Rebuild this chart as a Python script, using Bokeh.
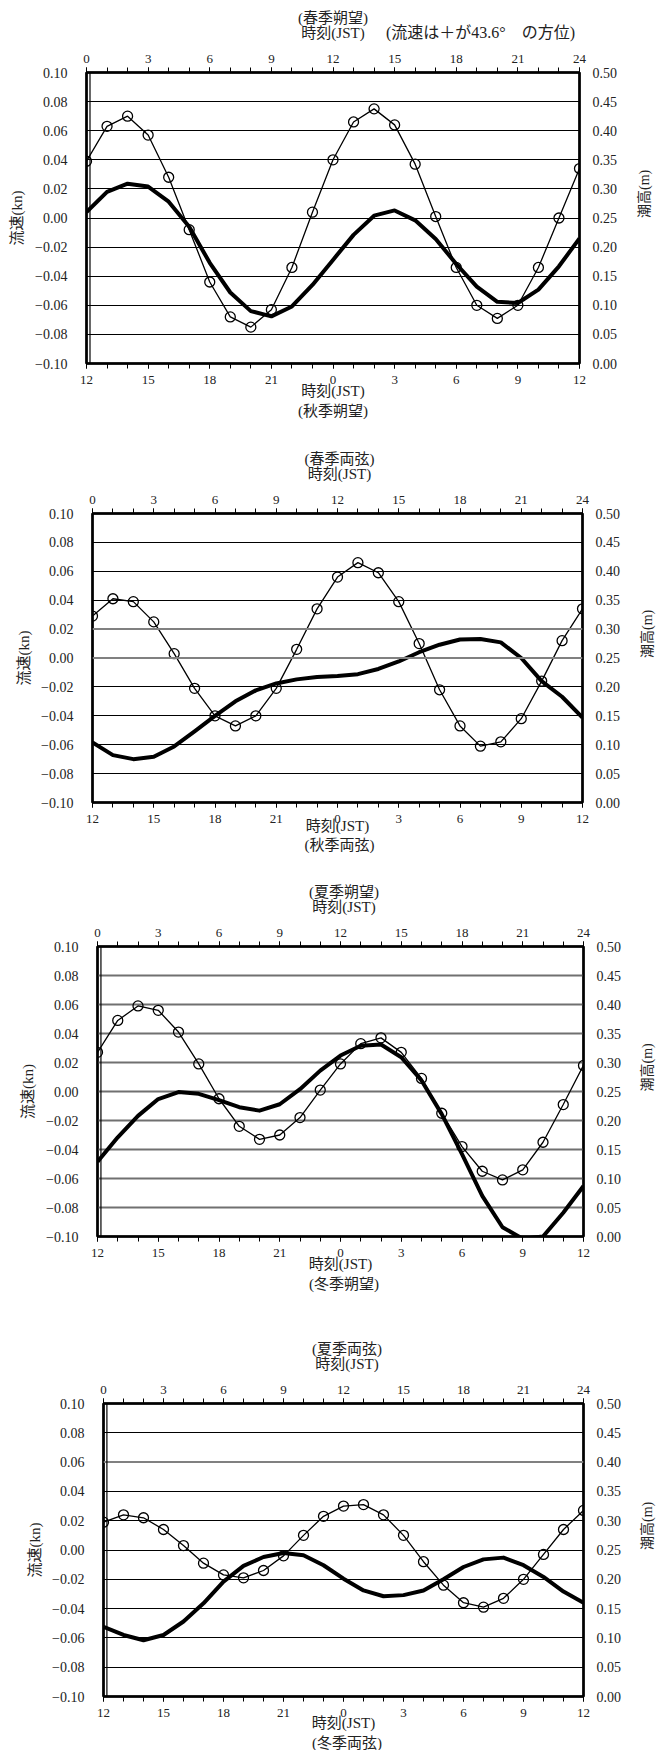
from math import pi
from bokeh.plotting import figure
from bokeh.models import Range1d, LinearAxis, FixedTicker, Span, ColumnDataSource
from bokeh.core.properties import value
from bokeh.embed import file_html
from bokeh.resources import INLINE

# ---------------- data ----------------
HOURS = list(range(25))

TOP_TICKS = [0, 3, 6, 9, 12, 15, 18, 21, 24]
TOP_LABELS = ["0", "3", "6", "9", "12", "15", "18", "21", "24"]
BOTTOM_LABELS = ["12", "15", "18", "21", "0", "3", "6", "9", "12"]

FLOW_TICKS = [-0.10, -0.08, -0.06, -0.04, -0.02, 0.00, 0.02, 0.04, 0.06, 0.08, 0.10]
FLOW_LABELS = ["\u22120.10", "\u22120.08", "\u22120.06", "\u22120.04", "\u22120.02",
               "0.00", "0.02", "0.04", "0.06", "0.08", "0.10"]
TIDE_TICKS = [0.00, 0.05, 0.10, 0.15, 0.20, 0.25, 0.30, 0.35, 0.40, 0.45, 0.50]
TIDE_LABELS = ["0.00", "0.05", "0.10", "0.15", "0.20", "0.25", "0.30", "0.35", "0.40", "0.45", "0.50"]

# flow speed (kn), hourly, circles
FLOW_1 = [0.039, 0.063, 0.070, 0.057, 0.028, -0.008, -0.044, -0.068, -0.075, -0.063, -0.034, 0.004,
          0.040, 0.066, 0.075, 0.064, 0.037, 0.001, -0.034, -0.060, -0.069, -0.060, -0.034, 0.000, 0.034]
FLOW_2 = [0.029, 0.041, 0.039, 0.025, 0.003, -0.021, -0.040, -0.047, -0.040, -0.021, 0.006, 0.034,
          0.056, 0.066, 0.059, 0.039, 0.010, -0.022, -0.047, -0.061, -0.058, -0.042, -0.016, 0.012, 0.034]
FLOW_3 = [0.027, 0.049, 0.059, 0.056, 0.041, 0.019, -0.005, -0.024, -0.033, -0.030, -0.018, 0.001,
          0.019, 0.033, 0.037, 0.027, 0.009, -0.015, -0.038, -0.055, -0.061, -0.054, -0.035, -0.009, 0.018]
FLOW_4 = [0.019, 0.024, 0.022, 0.014, 0.003, -0.009, -0.017, -0.019, -0.014, -0.004, 0.010, 0.023,
          0.030, 0.031, 0.024, 0.010, -0.008, -0.024, -0.036, -0.039, -0.033, -0.020, -0.003, 0.014, 0.027]

# tide height (m), hourly, thick line
TIDE_1 = [0.260, 0.295, 0.309, 0.304, 0.278, 0.235, 0.173, 0.122, 0.090, 0.081, 0.098, 0.135,
          0.178, 0.221, 0.254, 0.263, 0.246, 0.214, 0.171, 0.132, 0.106, 0.104, 0.127, 0.167, 0.215]
TIDE_2 = [0.104, 0.082, 0.075, 0.079, 0.097, 0.123, 0.150, 0.175, 0.194, 0.206, 0.213, 0.217,
          0.219, 0.222, 0.231, 0.244, 0.260, 0.273, 0.282, 0.283, 0.277, 0.250, 0.210, 0.183, 0.147]
TIDE_3 = [0.129, 0.171, 0.208, 0.237, 0.249, 0.246, 0.235, 0.223, 0.217, 0.228, 0.254, 0.286,
          0.312, 0.329, 0.331, 0.309, 0.269, 0.211, 0.142, 0.070, 0.016, -0.004, 0.000, 0.041, 0.087]
TIDE_4 = [0.119, 0.105, 0.096, 0.105, 0.128, 0.159, 0.196, 0.223, 0.238, 0.245, 0.241, 0.224,
          0.201, 0.181, 0.171, 0.173, 0.181, 0.200, 0.221, 0.234, 0.237, 0.224, 0.204, 0.179, 0.160]

TOP_TITLES = ["(春季朔望)", "(春季両弦)", "(夏季朔望)", "(夏季両弦)"]
BOTTOM_TITLES = ["(秋季朔望)", "(秋季両弦)", "(冬季朔望)", "(冬季両弦)"]
TIME_LABEL = "時刻(JST)"
FLOW_AXIS = "流速(kn)"
TIDE_AXIS = "潮高(m)"
NOTE = "(流速は＋が43.6°\u3000の方位)"

# ---------------- styling / layout ----------------
FONT = "'Liberation Serif', 'Noto Sans CJK JP'"
TXT = "#222222"
FIG_W = 665
PAGE_TOP = 0
PAGE_BOTTOM = 1751
TB = 28  # top border of main figures

PANEL_CFG = [
    dict(frame_top=72, fh=291, bl=86, br=86, bb=40, t_std=-4, l_std=7, r_std=24, double=True,
         gray=[], all_gray=False, season_off=47, note=True),
    dict(frame_top=513, fh=289, bl=92, br=79, bb=35, t_std=-8, l_std=6, r_std=24, double=False,
         gray=[0.02, 0.00], all_gray=False, season_off=42, note=False),
    dict(frame_top=946, fh=290, bl=97, br=75, bb=40, t_std=-4, l_std=7, r_std=23, double=True,
         gray=[], all_gray=True, season_off=47, note=False),
    dict(frame_top=1403, fh=293, bl=103, br=75, bb=38, t_std=-5, l_std=6, r_std=23, double=True,
         gray=[0.06], all_gray=False, season_off=46, note=False),
]
TITLE_OFF = 55   # season text above frame
TIME_OFF = 40    # time label above frame
NOTE_X = 480     # note centre, page px


def make_panel(i, flow, tide):
    cfg = PANEL_CFG[i]
    fh = cfg["fh"]
    p = figure(width=FIG_W, height=TB + fh + cfg["bb"], x_range=Range1d(0, 24), y_range=Range1d(-0.10, 0.10),
               x_axis_location="above", output_backend="svg", toolbar_location=None,
               min_border_left=cfg["bl"], min_border_right=cfg["br"],
               min_border_top=TB, min_border_bottom=cfg["bb"],
               background_fill_color="white", border_fill_color="white")
    p.extra_y_ranges = {"tide": Range1d(0.0, 0.5)}
    p.add_layout(LinearAxis(y_range_name="tide", axis_label=TIDE_AXIS), "right")
    p.add_layout(LinearAxis(axis_label=TIME_LABEL), "below")

    top, bottom, left, right = p.above[0], p.below[0], p.left[0], p.right[0]
    for ax, labels in ((top, TOP_LABELS), (bottom, BOTTOM_LABELS)):
        ax.ticker = FixedTicker(ticks=TOP_TICKS, minor_ticks=HOURS)
        ax.major_label_overrides = {t: l for t, l in zip(TOP_TICKS, labels)}
        ax.major_tick_out = 5
        ax.major_tick_in = 0
        ax.minor_tick_out = 5
        ax.minor_tick_in = 0
        ax.major_tick_line_color = "black"
        ax.minor_tick_line_color = "black"
        ax.axis_line_width = 2
        ax.axis_line_color = "black"
        ax.major_label_text_font = FONT
        ax.major_label_text_font_size = "13px"
        ax.major_label_text_color = TXT
    top.major_label_standoff = 5
    bottom.major_label_standoff = 7
    bottom.axis_label_standoff = cfg["t_std"]

    left.ticker = FixedTicker(ticks=FLOW_TICKS)
    left.major_label_overrides = {t: l for t, l in zip(FLOW_TICKS, FLOW_LABELS)}
    left.major_label_standoff = 19
    left.axis_label = FLOW_AXIS
    left.axis_label_standoff = cfg["l_std"]
    right.ticker = FixedTicker(ticks=TIDE_TICKS)
    right.major_label_overrides = {t: l for t, l in zip(TIDE_TICKS, TIDE_LABELS)}
    right.major_label_standoff = 13
    right.axis_label_standoff = cfg["r_std"]
    right.axis_label_orientation = pi / 2
    for ax in (left, right):
        ax.major_tick_out = 0
        ax.major_tick_in = 0
        ax.minor_tick_line_color = None
        ax.axis_line_width = 2
        ax.axis_line_color = "black"
        ax.major_label_text_font = FONT
        ax.major_label_text_font_size = "14px"
        ax.major_label_text_color = TXT
    for ax in (left, right, bottom):
        ax.axis_label_text_font = FONT
        ax.axis_label_text_font_style = "normal"
        ax.axis_label_text_color = TXT
        ax.axis_label_text_font_size = "15px"
    right.axis_label_text_font_size = "14px"

    p.xgrid.visible = False
    p.ygrid.ticker = FixedTicker(ticks=FLOW_TICKS)
    if cfg["all_gray"]:
        p.ygrid.grid_line_color = "#707070"
        p.ygrid.grid_line_width = 2
    else:
        p.ygrid.grid_line_color = "black"
        p.ygrid.grid_line_width = 1
    for g in cfg["gray"]:
        p.add_layout(Span(location=g, dimension="width", line_color="#808080", line_width=2))

    p.outline_line_color = "black"
    p.outline_line_width = 2.5
    if cfg["double"]:
        p.add_layout(Span(location=0.17, dimension="height", line_color="black", line_width=1.2))

    src = ColumnDataSource(dict(hour=HOURS, flow=flow, tide=tide))
    p.line("hour", "tide", source=src, y_range_name="tide", line_width=4, line_color="black",
           line_join="round")
    p.line("hour", "flow", source=src, line_width=1.3, line_color="black")
    p.scatter("hour", "flow", source=src, marker="circle", size=10, fill_color=None,
              line_color="black", line_width=1.3)
    return p


def make_gap(top_y, bottom_y, items):
    h = bottom_y - top_y
    g = figure(width=FIG_W, height=h, x_range=Range1d(0, FIG_W), y_range=Range1d(h, 0),
               output_backend="svg", toolbar_location=None, x_axis_type=None, y_axis_type=None,
               min_border_left=0, min_border_right=0, min_border_top=0, min_border_bottom=0,
               outline_line_color=None, background_fill_color="white", border_fill_color="white")
    g.grid.visible = False
    for text, x, page_y, size in items:
        g.text(x=[x], y=[page_y - top_y], text=[text], text_font=value(FONT),
               text_font_size=value(size), text_color=TXT,
               text_align="center", text_baseline="middle")
    return g


series = [(FLOW_1, TIDE_1), (FLOW_2, TIDE_2), (FLOW_3, TIDE_3), (FLOW_4, TIDE_4)]
roots = []
prev_bottom = PAGE_TOP
prev_items = []
for i, (fl, td) in enumerate(series):
    cfg = PANEL_CFG[i]
    fw = FIG_W - cfg["bl"] - cfg["br"]
    cx = cfg["bl"] + fw / 2
    main_top = cfg["frame_top"] - TB
    items = list(prev_items)
    items.append((TOP_TITLES[i], cx, cfg["frame_top"] - TITLE_OFF, "15px"))
    items.append((TIME_LABEL, cx, cfg["frame_top"] - TIME_OFF, "15px"))
    if cfg["note"]:
        items.append((NOTE, NOTE_X, cfg["frame_top"] - TIME_OFF, "16px"))
    roots.append(make_gap(prev_bottom, main_top, items))
    roots.append(make_panel(i, fl, td))
    frame_bottom = cfg["frame_top"] + cfg["fh"]
    prev_bottom = frame_bottom + cfg["bb"]
    prev_items = [(BOTTOM_TITLES[i], cx, frame_bottom + cfg["season_off"], "15px")]

roots.append(make_gap(prev_bottom, PAGE_BOTTOM - 1, prev_items))

open("out.html", "w").write(file_html(roots, INLINE))
